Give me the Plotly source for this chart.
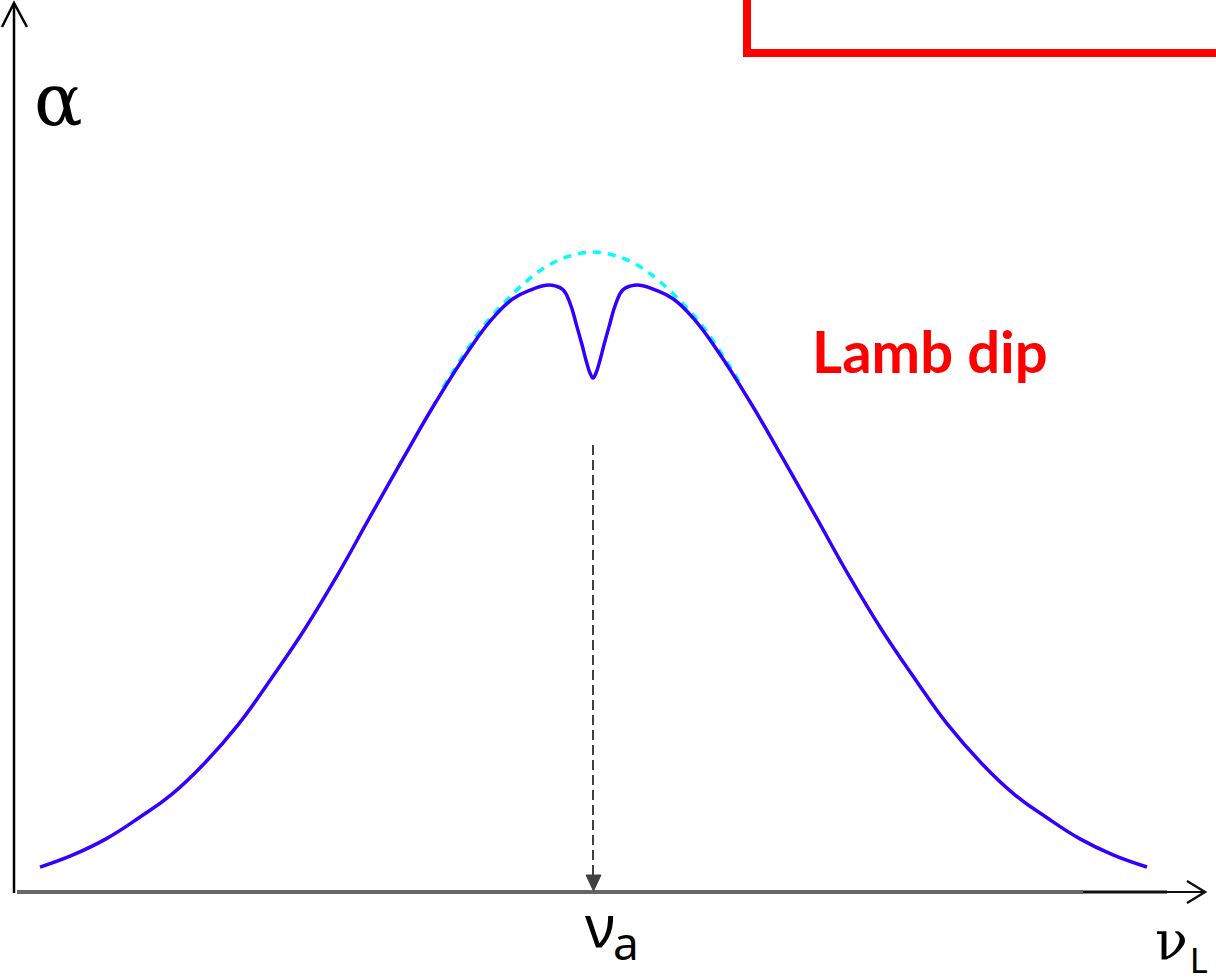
import plotly.graph_objects as go

# Absorption coefficient vs. laser detuning (arbitrary units), showing the Lamb dip
detuning_saturated = [-5.53, -5.20, -4.87, -4.54, -4.21, -3.88, -3.55, -3.22, -2.89, -2.56,
                      -2.23, -1.90, -1.57, -1.24, -1.00, -0.80, -0.62, -0.47, -0.38, -0.30,
                      -0.23, -0.16, -0.11, -0.07, -0.03, 0.00,
                      0.03, 0.07, 0.11, 0.16, 0.23, 0.30, 0.38, 0.47, 0.62, 0.80,
                      1.00, 1.24, 1.57, 1.90, 2.23, 2.56, 2.89, 3.22, 3.55, 3.88,
                      4.21, 4.54, 4.87, 5.20, 5.54]
alpha_saturated = [0.039, 0.058, 0.083, 0.116, 0.153, 0.202, 0.261, 0.333, 0.409, 0.494,
                   0.586, 0.677, 0.766, 0.847, 0.897, 0.927, 0.941, 0.948, 0.947, 0.941,
                   0.920, 0.883, 0.855, 0.831, 0.811, 0.803,
                   0.811, 0.831, 0.855, 0.883, 0.920, 0.941, 0.947, 0.948, 0.941, 0.927,
                   0.897, 0.847, 0.766, 0.677, 0.586, 0.494, 0.409, 0.333, 0.261, 0.202,
                   0.153, 0.116, 0.083, 0.058, 0.039]

# Unsaturated Doppler profile near the line centre
detuning_doppler = [-1.50, -1.13, -0.90, -0.66, -0.46, -0.23, 0.00, 0.23, 0.46, 0.66, 0.90, 1.13, 1.50]
alpha_doppler = [0.788, 0.877, 0.919, 0.955, 0.978, 0.994, 1.000, 0.994, 0.978, 0.955, 0.919, 0.877, 0.788]

W, H = 1216, 980
X_RANGE = [-5.93, 6.23]
Y_RANGE = [-0.1375, 1.39375]


def X(px):
    return X_RANGE[0] + px / W * (X_RANGE[1] - X_RANGE[0])


def Y(py):
    return Y_RANGE[1] - py / H * (Y_RANGE[1] - Y_RANGE[0])


fig = go.Figure()

fig.add_trace(go.Scatter(
    x=detuning_doppler, y=alpha_doppler, mode="lines",
    line=dict(color="#00FFFF", width=3.5, dash="8px,7px", shape="spline", smoothing=1.0),
    hoverinfo="skip", showlegend=False,
))
fig.add_trace(go.Scatter(
    x=detuning_saturated, y=alpha_saturated, mode="lines",
    line=dict(color="#3300FF", width=3.5, shape="spline", smoothing=1.3),
    hoverinfo="skip", showlegend=False,
))

shapes = [
    # vertical axis with open arrow head
    dict(type="line", x0=X(14), x1=X(14), y0=Y(893), y1=Y(3), line=dict(color="#000000", width=2.5)),
    dict(type="path", path=f"M {X(2)},{Y(27)} L {X(14)},{Y(3)} L {X(27)},{Y(27)}",
         line=dict(color="#000000", width=2.5)),
    # horizontal axis
    dict(type="line", x0=X(17), x1=X(1083), y0=0, y1=0, line=dict(color="#666666", width=4)),
    dict(type="line", x0=X(1083), x1=X(1167), y0=0, y1=0, line=dict(color="#111111", width=3)),
    dict(type="line", x0=X(1167), x1=X(1204), y0=0, y1=0, line=dict(color="#111111", width=2)),
    dict(type="path", path=f"M {X(1187)},{Y(881)} L {X(1205)},{Y(892)} L {X(1187)},{Y(903)}",
         line=dict(color="#111111", width=2.5)),
    # dashed marker down to the line centre
    dict(type="line", x0=0, x1=0, y0=Y(445), y1=Y(876), line=dict(color="#404040", width=2, dash="10px,5px")),
    dict(type="path", path=f"M {X(586)},{Y(875)} L {X(601)},{Y(875)} L {X(593.5)},{Y(891)} Z",
         fillcolor="#404040", line=dict(color="#404040", width=1)),
    # red bracket
    dict(type="path", path=f"M {X(747)},{Y(-10)} L {X(747)},{Y(53)} L {X(1230)},{Y(53)}",
         line=dict(color="#FF0000", width=8)),
]
fig.update_layout(shapes=shapes)


def ann(text, px, py, family, size, color="#000000", bold=False):
    if bold:
        text = f"<b>{text}</b>"
    fig.add_annotation(text=text, x=px / W, y=1 - py / H, xref="paper", yref="paper",
                       xanchor="center", yanchor="middle", showarrow=False, borderpad=0,
                       font=dict(family=family, size=size, color=color))


ann("α", 58, 100, "DejaVu Serif", 72)
ann("ν", 600, 924, "Noto Sans", 58)
ann("a", 626, 942, "Noto Sans", 46)
ann("ν", 1171, 940, "DejaVu Serif", 54)
ann("L", 1198.5, 959, "Lato", 34)
ann("Lamb dip", 929.5, 350, "Lato", 58, color="#FF0000", bold=True)

fig.update_layout(
    width=W, height=H,
    margin=dict(l=0, r=0, t=0, b=0),
    paper_bgcolor="white", plot_bgcolor="white",
    xaxis=dict(range=X_RANGE, visible=False, fixedrange=True),
    yaxis=dict(range=Y_RANGE, visible=False, fixedrange=True),
    showlegend=False,
)

fig.write_html("out.html")
